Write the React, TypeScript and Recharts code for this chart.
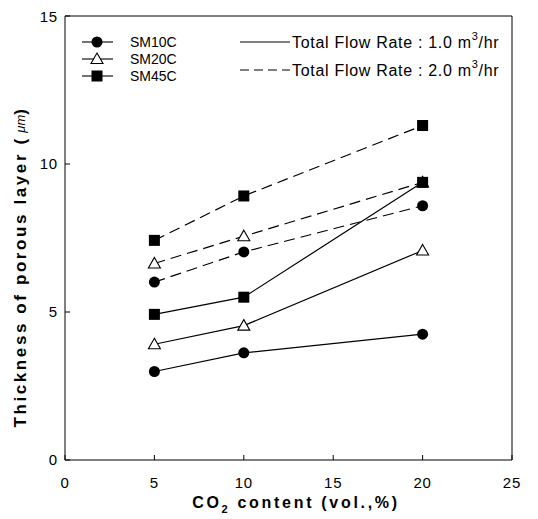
import React from 'react'
import { LineChart, Line, XAxis, YAxis, ReferenceLine } from 'recharts'

const co2 = [5, 10, 20]
const xTicks = [0, 5, 10, 15, 20, 25]
const yTicks = [0, 5, 10, 15]

// flow rate 1.0 m3/hr (solid)
const sm10cLow = [2.99, 3.62, 4.25]
const sm20cLow = [3.91, 4.54, 7.08]
const sm45cLow = [4.92, 5.5, 9.38]
// flow rate 2.0 m3/hr (dashed)
const sm10cHigh = [6.01, 7.03, 8.59]
const sm20cHigh = [6.64, 7.56, 9.38]
const sm45cHigh = [7.42, 8.92, 11.3]

const data = co2.map((x, i) => ({
  x,
  sm10cLow: sm10cLow[i],
  sm20cLow: sm20cLow[i],
  sm45cLow: sm45cLow[i],
  sm10cHigh: sm10cHigh[i],
  sm20cHigh: sm20cHigh[i],
  sm45cHigh: sm45cHigh[i],
}))

const FONT = 'Liberation Sans, Arial, sans-serif'
const DASH = '11 6'

const Circle = (props: any) => {
  const { cx, cy } = props
  if (cx == null || cy == null) return null
  return <circle cx={cx} cy={cy} r={5.5} fill="#000" />
}
const Square = (props: any) => {
  const { cx, cy } = props
  if (cx == null || cy == null) return null
  return <rect x={cx - 5.5} y={cy - 5.5} width={11} height={11} fill="#000" />
}
const Triangle = (props: any) => {
  const { cx, cy } = props
  if (cx == null || cy == null) return null
  return (
    <path
      d={`M${cx},${cy - 6} L${cx + 6},${cy + 4.5} L${cx - 6},${cy + 4.5} Z`}
      fill="#fff"
      stroke="#000"
      strokeWidth={1.1}
    />
  )
}

// dashed first so the solid SM45C square at 20% sits on top
const series = [
  { key: 'sm10cHigh', dot: Circle, dash: DASH },
  { key: 'sm20cHigh', dot: Triangle, dash: DASH },
  { key: 'sm45cHigh', dot: Square, dash: DASH },
  { key: 'sm10cLow', dot: Circle, dash: undefined },
  { key: 'sm20cLow', dot: Triangle, dash: undefined },
  { key: 'sm45cLow', dot: Square, dash: undefined },
]

const tickStyle = { fontSize: 15, fill: '#000', fontFamily: FONT, letterSpacing: 0.8 }

const YTitle = () => {
  const cx = 12
  const cy = 259
  return (
    <text
      x={cx}
      y={cy}
      transform={`rotate(-90 ${cx} ${cy})`}
      textAnchor="middle"
      dominantBaseline="central"
      fontFamily={FONT}
      fontWeight="bold"
      fontSize={17}
      letterSpacing={2.6}
      fill="#000"
    >
      Thickness of porous layer (
      <tspan fontStyle="italic" fontWeight="normal" fontSize={13} letterSpacing={0}> μm</tspan>)
    </text>
  )
}

const XTitle = () => (
  <text
    x={288}
    y={500}
    textAnchor="middle"
    fontFamily={FONT}
    fontWeight="bold"
    fontSize={16}
    letterSpacing={2.7}
    fill="#000"
  >
    CO<tspan fontSize={11} dy={5}>2</tspan>
    <tspan dy={-5}> content (vol.,%)</tspan>
  </text>
)

function Legend() {
  const rows = [
    { name: 'SM10C', dot: Circle, y: 34 },
    { name: 'SM20C', dot: Triangle, y: 51 },
    { name: 'SM45C', dot: Square, y: 68 },
  ]
  return (
    <svg
      width={530}
      height={100}
      style={{ position: 'absolute', left: 0, top: 0, pointerEvents: 'none' }}
      fontFamily={FONT}
    >
      {rows.map((r) => {
        const D = r.dot
        return (
          <g key={r.name}>
            <line x1={74} x2={105} y1={r.y} y2={r.y} stroke="#000" strokeWidth={1.1} />
            <D cx={89} cy={r.y} />
            <text x={122} y={r.y} dominantBaseline="central" fontSize={14} fill="#000">
              {r.name}
            </text>
          </g>
        )
      })}
      <line x1={232} x2={282} y1={34} y2={34} stroke="#000" strokeWidth={1.1} />
      <text x={284} y={34} dominantBaseline="central" fontSize={16} letterSpacing={0.7} fill="#000">
        Total Flow Rate : 1.0 m<tspan dy={-6} fontSize={11}>3</tspan>
        <tspan dy={6}>/hr</tspan>
      </text>
      <line x1={232} x2={282} y1={62} y2={62} stroke="#000" strokeWidth={1.1} strokeDasharray="9 5" />
      <text x={284} y={62} dominantBaseline="central" fontSize={16} letterSpacing={0.7} fill="#000">
        Total Flow Rate : 2.0 m<tspan dy={-6} fontSize={11}>3</tspan>
        <tspan dy={6}>/hr</tspan>
      </text>
    </svg>
  )
}

export default function App(): JSX.Element {
  return (
    <div style={{ position: 'relative', width: 530, height: 511 }}>
      <LineChart
        width={530}
        height={511}
        data={data}
        margin={{ top: 8, right: 26, left: 7, bottom: 9 }}
      >
        <XAxis
          xAxisId="b"
          type="number"
          dataKey="x"
          domain={[0, 25]}
          ticks={xTicks}
          tick={tickStyle}
          tickSize={-5}
          tickMargin={22}
          stroke="#000"
          height={50}
          label={<XTitle />}
        />
        <YAxis
          yAxisId="l"
          type="number"
          domain={[0, 15]}
          ticks={yTicks}
          tick={tickStyle}
          tickSize={-5}
          tickMargin={12}
          stroke="#000"
          width={50}
          label={<YTitle />}
        />
        <ReferenceLine xAxisId="b" yAxisId="l" y={15} stroke="#000" strokeWidth={1} />
        <ReferenceLine xAxisId="b" yAxisId="l" x={25} stroke="#000" strokeWidth={1} />
        {series.map((s) => (
          <Line
            key={s.key}
            xAxisId="b"
            yAxisId="l"
            type="linear"
            dataKey={s.key}
            stroke="#000"
            strokeWidth={1.2}
            strokeDasharray={s.dash}
            dot={<s.dot />}
            activeDot={false}
            isAnimationActive={false}
          />
        ))}
      </LineChart>
      <Legend />
    </div>
  )
}
